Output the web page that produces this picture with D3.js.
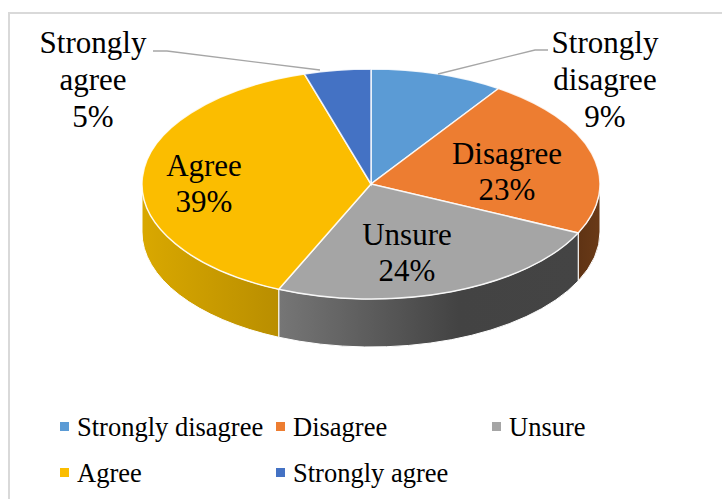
<!DOCTYPE html>
<html>
<head>
<meta charset="utf-8">
<script src="https://cdn.jsdelivr.net/npm/d3@7"></script>
<style>
  html, body { margin: 0; padding: 0; background: #fff; }
  svg { display: block; }
  text { font-family: "Liberation Serif", serif; fill: #000; }
</style>
</head>
<body>
<script>
var categories = ["Strongly disagree", "Disagree", "Unsure", "Agree", "Strongly agree"];
// slice sizes, the printed labels are rounded
var values = [9.4, 22.6, 24.6, 38.7, 4.7];
var colors = ["#5b9bd5", "#ed7d31", "#a5a5a5", "#fbbd00", "#4472c4"];
var wallFrom = ["#5b9bd5", "#5f3314", "#767676", "#d9a800", "#4472c4"];
var wallTo = ["#5b9bd5", "#6a3a17", "#444444", "#b98e00", "#4472c4"];
var labelLines = [["Strongly", "disagree", "9%"], ["Disagree", "23%"], ["Unsure", "24%"], ["Agree", "39%"], ["Strongly", "agree", "5%"]];
var labelAt = [[605, 43], [507, 154], [407, 235], [204, 166], [93, 43]];
var legendAt = [[60, 427], [276, 427], [492, 427], [60, 473], [276, 473]];
var leaders = [[[438, 74], [535, 50], [548, 50]], null, null, null, [[153, 51], [167, 51], [320, 70]]];

var w = 722;
var h = 499;
var cx = 371;
var cy = 184;
var rx = 229;
var ry = 115;
var depth = 48;

var svg = d3.select("body").append("svg")
  .attr("width", w)
  .attr("height", h);

// chart frame, only the left and top edges are in the crop
svg.append("path")
  .attr("d", "M9,499V13H722")
  .attr("fill", "none")
  .attr("stroke", "#d9d9d9")
  .attr("stroke-width", 2);

var pie = d3.pie().sort(null).value(function(d){ return d; });
var arcs = pie(values);

function px(a){ return cx + rx * Math.sin(a); }
function py(a){ return cy - ry * Math.cos(a); }

var defs = svg.append("defs");

// side wall, only the front half of the ellipse shows
function wallPath(a0, a1){
  var p0 = Math.max(a0, Math.PI / 2);
  var p1 = Math.min(a1, Math.PI * 1.5);
  if (p1 <= p0) return null;
  return "M" + px(p0) + "," + py(p0) +
    "A" + rx + "," + ry + " 0 0 1 " + px(p1) + "," + py(p1) +
    "L" + px(p1) + "," + (py(p1) + depth) +
    "A" + rx + "," + ry + " 0 0 0 " + px(p0) + "," + (py(p0) + depth) + "Z";
}

arcs.forEach(function(d, i){
  var p = wallPath(d.startAngle, d.endAngle);
  if (!p) return;
  var p0 = Math.max(d.startAngle, Math.PI / 2);
  var p1 = Math.min(d.endAngle, Math.PI * 1.5);
  var g = defs.append("linearGradient")
    .attr("id", "wall" + i)
    .attr("gradientUnits", "userSpaceOnUse")
    .attr("x1", Math.min(px(p0), px(p1)))
    .attr("x2", Math.max(px(p0), px(p1)))
    .attr("y1", 0)
    .attr("y2", 0);
  g.append("stop").attr("offset", "0").attr("stop-color", wallFrom[i]);
  if (i == 2) g.append("stop").attr("offset", "0.6").attr("stop-color", "#434343");
  g.append("stop").attr("offset", "1").attr("stop-color", wallTo[i]);
  svg.append("path")
    .attr("d", p)
    .attr("fill", "url(#wall" + i + ")")
    .attr("stroke", "#fff")
    .attr("stroke-width", 1);
});

// top face: a plain d3 arc squashed into an ellipse
var arc = d3.arc().innerRadius(0).outerRadius(rx);

svg.append("g")
  .attr("transform", "translate(" + cx + "," + cy + ") scale(1," + (ry / rx) + ")")
  .selectAll("path")
  .data(arcs)
  .enter()
  .append("path")
  .attr("d", arc)
  .attr("fill", function(d, i){ return colors[i]; })
  .attr("stroke", "#fff")
  .attr("stroke-opacity", 0.85)
  .attr("stroke-width", 1.5)
  .attr("vector-effect", "non-scaling-stroke");

var line = d3.line();
leaders.forEach(function(l){
  if (!l) return;
  svg.append("path")
    .attr("d", line(l))
    .attr("fill", "none")
    .attr("stroke", "#a6a6a6")
    .attr("stroke-width", 1.3);
});

// data labels
labelLines.forEach(function(lines, i){
  var t = svg.append("text")
    .attr("text-anchor", "middle")
    .attr("font-size", 31);
  lines.forEach(function(s, j){
    t.append("tspan")
      .attr("x", labelAt[i][0])
      .attr("y", labelAt[i][1] + 10 + j * (lines.length == 3 ? 37 : 36))
      .text(s);
  });
});

// legend
var legend = svg.selectAll("g.legend")
  .data(categories)
  .enter()
  .append("g")
  .attr("class", "legend")
  .attr("transform", function(d, i){ return "translate(" + legendAt[i][0] + "," + legendAt[i][1] + ")"; });

legend.append("rect")
  .attr("x", 0)
  .attr("y", -5)
  .attr("width", 9)
  .attr("height", 9)
  .attr("fill", function(d, i){ return colors[i]; });

legend.append("text")
  .attr("x", 17)
  .attr("y", 9)
  .attr("font-size", 26.5)
  .text(function(d){ return d; });
</script>
</body>
</html>
